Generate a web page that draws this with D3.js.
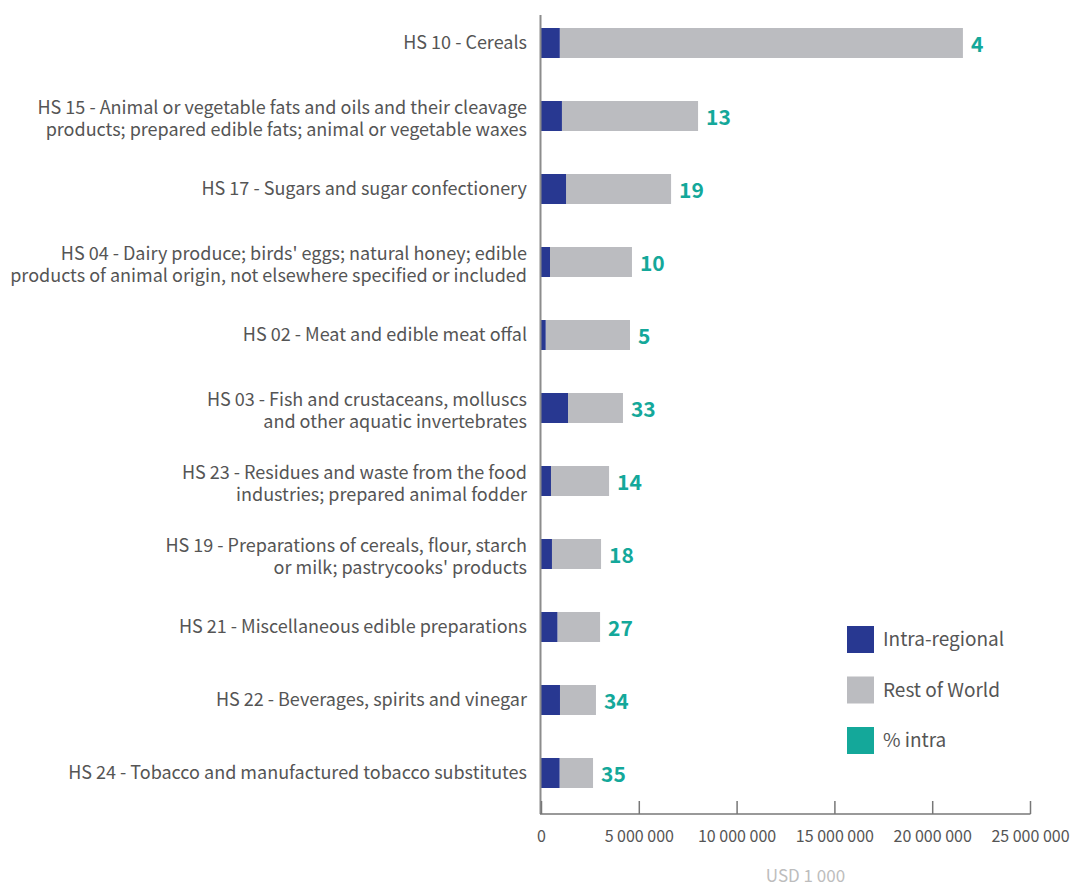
<!DOCTYPE html>
<html>
<head>
<meta charset="utf-8">
<script src="https://cdn.jsdelivr.net/npm/d3@7"></script>
<style>
  html, body { margin: 0; padding: 0; background: #fff; }
  svg { display: block; font-family: "Noto Sans CJK SC", "Source Sans Pro", Lato, sans-serif; }
</style>
</head>
<body>
<svg id="chart" width="1072" height="888"></svg>
<script>
// HS chapters, largest total first
const categories = [
  ["HS 10 - Cereals"],
  ["HS 15 - Animal or vegetable fats and oils and their cleavage", "products; prepared edible fats; animal or vegetable waxes"],
  ["HS 17 - Sugars and sugar confectionery"],
  ["HS 04 - Dairy produce; birds' eggs; natural honey; edible", "products of animal origin, not elsewhere specified or included"],
  ["HS 02 - Meat and edible meat offal"],
  ["HS 03 - Fish and crustaceans, molluscs", "and other aquatic invertebrates"],
  ["HS 23 - Residues and waste from the food", "industries; prepared animal fodder"],
  ["HS 19 - Preparations of cereals, flour, starch", "or milk; pastrycooks' products"],
  ["HS 21 - Miscellaneous edible preparations"],
  ["HS 22 - Beverages, spirits and vinegar"],
  ["HS 24 - Tobacco and manufactured tobacco substitutes"]
];
// USD 1 000
const intraRegional = [960000, 1070000, 1280000, 460000, 240000, 1380000, 510000, 560000, 840000, 970000, 950000];
const restOfWorld   = [20610000, 6960000, 5370000, 4190000, 4310000, 2810000, 2970000, 2510000, 2180000, 1840000, 1710000];
// share of intra-regional trade, %
const pctIntra = [4, 13, 19, 10, 5, 33, 14, 18, 27, 34, 35];
const xTicks = [0, 5000000, 10000000, 15000000, 20000000, 25000000];
const legendItems = ["Intra-regional", "Rest of World", "% intra"];

const colors = { intra: "#283891", rest: "#bbbcc0", pct: "#14a89a" };
const textColor = "#555555";

const svg = d3.select("#chart");

const x = d3.scaleLinear().domain([0, 25000000]).range([541, 1030]);
const y = d3.scaleBand()
  .domain(d3.range(categories.length))
  .range([13.4, 802.6])
  .paddingInner(0.589)
  .paddingOuter(0.2);

const rows = categories.map((lines, i) => ({
  i, lines,
  intra: intraRegional[i],
  rest: restOfWorld[i],
  total: intraRegional[i] + restOfWorld[i],
  pct: pctIntra[i]
}));

// Bars: intra-regional then rest of world stacked
const g = svg.append("g");
g.selectAll("rect.rest").data(rows).join("rect")
  .attr("class", "rest")
  .attr("x", d => x(d.intra))
  .attr("y", d => y(d.i))
  .attr("width", d => x(d.total) - x(d.intra))
  .attr("height", y.bandwidth())
  .attr("fill", colors.rest);
g.selectAll("rect.intra").data(rows).join("rect")
  .attr("class", "intra")
  .attr("x", x(0))
  .attr("y", d => y(d.i))
  .attr("width", d => x(d.intra) - x(0))
  .attr("height", y.bandwidth())
  .attr("fill", colors.intra);

// Percentage labels
g.selectAll("text.pct").data(rows).join("text")
  .attr("class", "pct")
  .attr("x", d => x(d.total) + 8)
  .attr("y", d => y(d.i) + y.bandwidth() / 2 + 1)
  .attr("dy", "0.36em")
  .attr("fill", colors.pct)
  .attr("font-size", 21)
  .attr("font-weight", 700)
  .text(d => d.pct);

// Category labels (multi-line labels sit slightly below the bar centre)
const lineH = 22;
const cat = g.selectAll("text.cat").data(rows).join("text")
  .attr("class", "cat")
  .attr("text-anchor", "end")
  .attr("fill", textColor)
  .attr("font-size", 18);
cat.each(function(d) {
  const t = d3.select(this);
  const n = d.lines.length;
  const cy = y(d.i) + y.bandwidth() / 2 + (n > 1 ? 2.5 : 0);
  d.lines.forEach((ln, k) => {
    t.append("tspan")
      .attr("x", 527)
      .attr("y", cy + (k - (n - 1) / 2) * lineH)
      .attr("dy", "0.35em")
      .text(ln);
  });
});

// Vertical category axis line
svg.append("line")
  .attr("x1", 540.5).attr("x2", 540.5)
  .attr("y1", 15).attr("y2", 814)
  .attr("stroke", "#8c8c8c").attr("stroke-width", 2);

// Value axis
const fmt = d3.formatLocale({ decimal: ".", thousands: " ", grouping: [3], currency: ["", ""] }).format(",d");
const xAxis = d3.axisBottom(x)
  .tickValues(xTicks)
  .tickFormat(fmt)
  .tickSize(-13)
  .tickSizeOuter(0)
  .tickPadding(17);
const ax = svg.append("g").attr("transform", "translate(0,814)").call(xAxis);
ax.select(".domain").attr("stroke", "#777").attr("stroke-width", 1.5)
  .attr("d", `M${x(0) - 1},0H${x(25000000) + 0.5}`);
ax.selectAll(".tick line").attr("stroke", "#777").attr("stroke-width", 1.5);
ax.selectAll(".tick text")
  .attr("fill", textColor)
  .attr("font-size", 16)
  .attr("font-family", "\"Noto Sans CJK SC\", \"Source Sans Pro\", Lato, sans-serif");

// Axis title
svg.append("text")
  .attr("x", (x(0) + x(25000000)) / 2 + 20)
  .attr("y", 882)
  .attr("text-anchor", "middle")
  .attr("fill", "#bdbdbd")
  .attr("font-size", 17)
  .text("USD 1 000");

// Legend
const legendColors = [colors.intra, colors.rest, colors.pct];
const lg = svg.append("g").attr("transform", "translate(847,626)");
const li = lg.selectAll("g").data(legendItems).join("g")
  .attr("transform", (d, i) => `translate(0,${i * 50.5})`);
li.append("rect")
  .attr("width", 27).attr("height", 27)
  .attr("fill", (d, i) => legendColors[i]);
li.append("text")
  .attr("x", 36).attr("y", 13.5).attr("dy", "0.35em")
  .attr("fill", textColor)
  .attr("font-size", 19)
  .text(d => d);
</script>
</body>
</html>
